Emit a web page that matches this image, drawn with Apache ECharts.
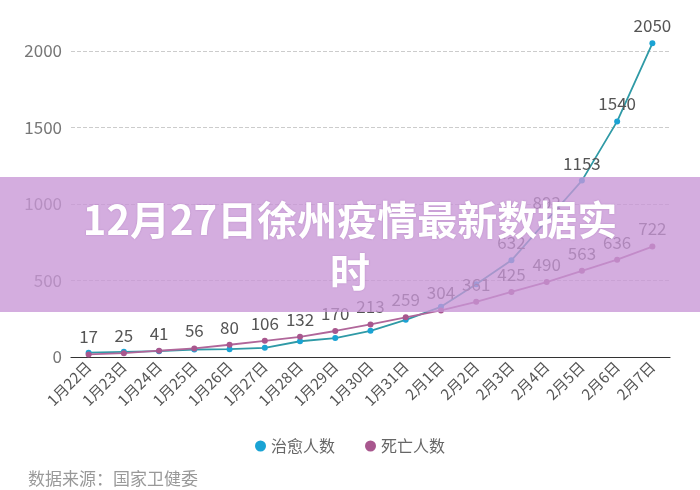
<!DOCTYPE html>
<html><head><meta charset="utf-8">
<script src="https://cdn.jsdelivr.net/npm/echarts@6/dist/echarts.min.js"></script>
<style>html,body{margin:0;padding:0;background:#fff}#c{width:700px;height:490px}</style>
</head><body><div id="c"></div>
<script>
var categories = ['1月22日','1月23日','1月24日','1月25日','1月26日','1月27日','1月28日','1月29日','1月30日','1月31日','2月1日','2月2日','2月3日','2月4日','2月5日','2月6日','2月7日'];
var cured = [28,34,38,49,51,60,103,124,171,243,328,475,632,892,1153,1540,2050];
var deaths = [17,25,41,56,80,106,132,170,213,259,304,361,425,490,563,636,722];
var yTicks = [0,500,1000,1500,2000];
var legendNames = ['治愈人数','死亡人数'];
var titleText = '12月27日徐州疫情最新数据实\n时';
var sourceText = '数据来源：国家卫健委';
var curedLabelFrom = 12;

var font = '"Noto Sans CJK SC","Noto Sans",sans-serif';
var chart = echarts.init(document.getElementById('c'), null, {renderer:'canvas'});
chart.setOption({
  animation:false,
  textStyle:{fontFamily:font},
  grid:{left:71,right:30,top:51,bottom:133},
  legend:{data:legendNames,top:433,left:'center',itemGap:30,icon:'circle',itemWidth:11,itemHeight:11,
    textStyle:{fontSize:16,color:'#666',fontFamily:font}},
  xAxis:{type:'category',data:categories,boundaryGap:true,
    axisLine:{lineStyle:{color:'#333',width:1.2}},
    axisTick:{alignWithLabel:true,length:5,lineStyle:{color:'#333'}},
    axisLabel:{rotate:45,fontSize:15,color:'#555',margin:7,interval:0,fontFamily:font}},
  yAxis:{type:'value',min:yTicks[0],max:yTicks[yTicks.length-1],interval:500,
    axisLine:{show:false},axisTick:{show:false},
    axisLabel:{fontSize:17,color:'#777',margin:9,fontFamily:font,formatter:function(v){return String(v);}},
    splitLine:{lineStyle:{type:'dashed',color:'#ccc'}}},
  series:[
    {name:legendNames[0],type:'line',data:cured,clip:false,symbol:'circle',symbolSize:6,
     itemStyle:{color:'#1aa3d4'},
     lineStyle:{color:'#2f9aa6',width:1.8},
     label:{show:true,position:'top',fontSize:17,color:'#555',distance:6,
       formatter:function(p){return p.dataIndex>=curedLabelFrom?p.value:'';}},
     z:2},
    {name:legendNames[1],type:'line',data:deaths,clip:false,symbol:'circle',symbolSize:6,
     itemStyle:{color:'#a8578e'},
     lineStyle:{color:'#b0669a',width:1.8},
     label:{show:true,position:'top',fontSize:17,color:'#555',distance:6},
     z:3}
  ],
  graphic:[
    {type:'rect',left:0,top:177,z:100,shape:{width:700,height:135},style:{fill:'rgba(200,150,214,0.78)'}},
    {type:'text',left:'center',top:194,z:101,style:{text:titleText,fill:'#fff',font:'bold 40px '+font,textAlign:'center',lineHeight:52,
      textShadowColor:'rgba(120,60,140,0.3)',textShadowBlur:2}},
    {type:'text',left:28,top:470,z:10,style:{text:sourceText,fill:'#999',font:'17px '+font}}
  ]
});
</script></body></html>
